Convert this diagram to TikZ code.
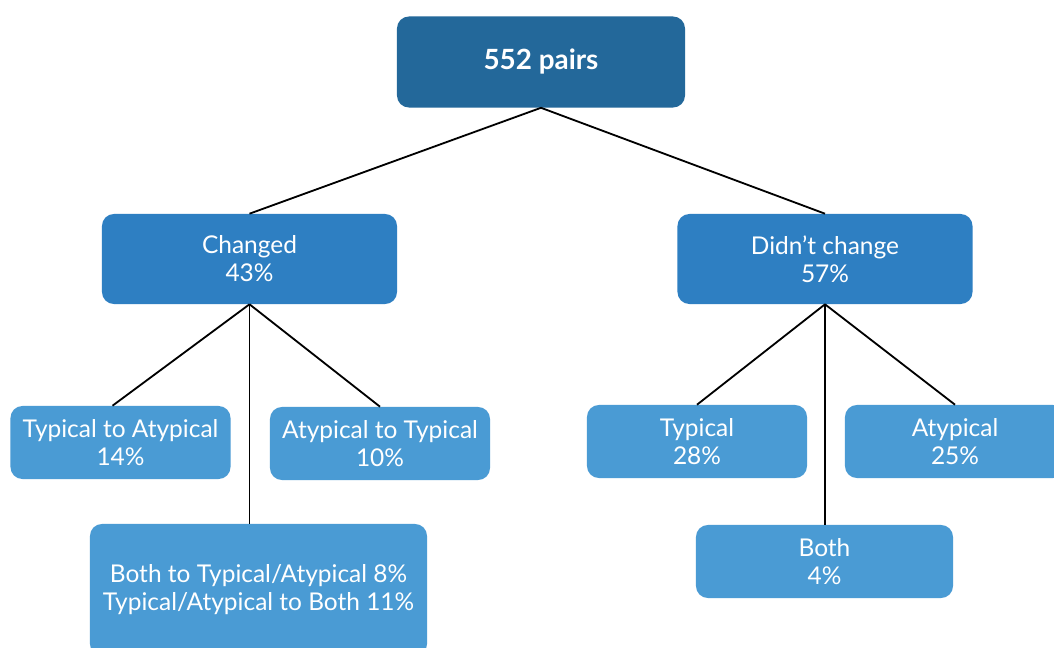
\documentclass[tikz,border=0pt]{standalone}
\usepackage{fontspec}
\setmainfont{Lato}
\usepackage{tikz}
\usetikzlibrary{positioning}

\definecolor{rootblue}{RGB}{35,104,154}
\definecolor{midblue}{RGB}{46,127,194}
\definecolor{leafblue}{RGB}{74,155,212}

\begin{document}
\begin{tikzpicture}[x=0.025cm,y=-0.025cm,
        box/.style={rectangle,rounded corners=0.3cm,draw=none,text=white,align=center,
                    font=\fontsize{17.4}{20}\selectfont,inner sep=0pt},
        root/.style={box,fill=rootblue,minimum width=7.2cm,minimum height=2.275cm,
                    font=\fontsize{19.8}{22}\selectfont\bfseries},
        group/.style={box,fill=midblue,minimum width=7.375cm,minimum height=2.25cm},
        leaf/.style={box,fill=leafblue,minimum width=5.5cm,minimum height=1.825cm},
        link/.style={draw=black,line width=1.3pt}]

        \clip (0,0) rectangle (1054,648);
        \fill[white] (0,0) rectangle (1054,648);

        \node[root]  (pairs) at (541,62) {552 pairs};

        \node[group] (chg)   at (249.5,259) {Changed\\43\%};
        \node[group] (nochg) at (825,259)   {Didn't change\\57\%};

        \node[leaf]  (tta)   at (120.5,442.5) {Typical to Atypical\\14\%};
        \node[leaf]  (att)   at (380,443.5)   {Atypical to Typical\\10\%};
        \node[leaf,minimum width=8.425cm,minimum height=3.3cm]
                     (bothc) at (258.5,590)   {Both to Typical/Atypical 8\%\\Typical/Atypical to Both 11\%};

        \node[leaf]  (typ)   at (697,441.5)   {Typical\\28\%};
        \node[leaf]  (atyp)  at (955,441.5)   {Atypical\\25\%};
        \node[leaf,minimum width=6.425cm]
                     (bothn) at (824.5,561.5) {Both\\4\%};

        \path[link]
                  (pairs.south) edge (chg.north)
                  (pairs.south) edge (nochg.north)

                  (chg.south)   edge ([xshift=-0.2cm]tta.north)
                  (chg.south)   edge (att.north)
                  (chg.south)   edge (chg.south |- bothc.north)

                  (nochg.south) edge (typ.north)
                  (nochg.south) edge (atyp.north)
                  (nochg.south) edge (nochg.south |- bothn.north);
    \end{tikzpicture}
\end{document}
